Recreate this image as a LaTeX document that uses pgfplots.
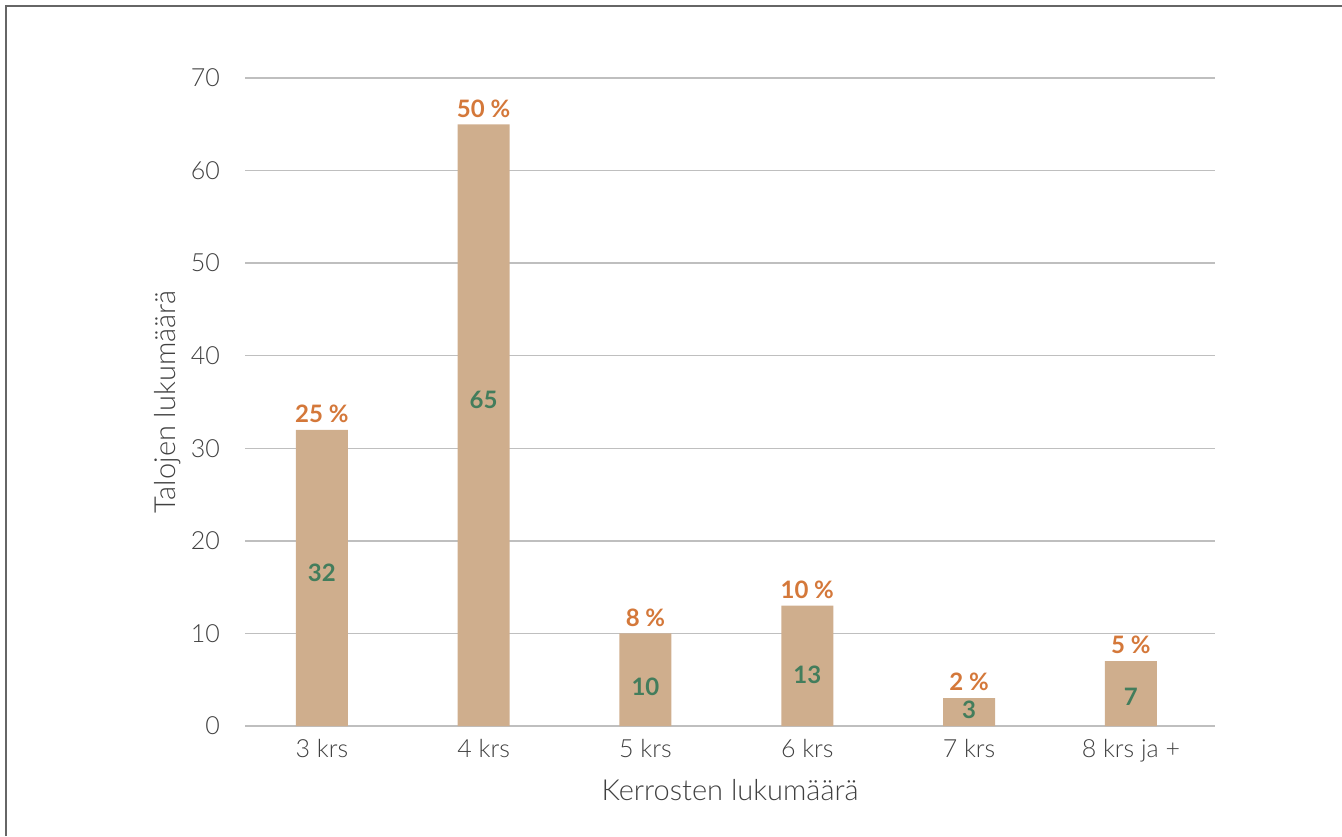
\documentclass[border=0pt]{standalone}
\usepackage{pgfplots}
\usepackage{pgfplotstable}
\pgfplotsset{compat=1.18}
\usepackage{fontspec}
\setmainfont{Lato}[UprightFont=* Light, BoldFont=* Bold]
\definecolor{bartan}{HTML}{CFAE8D}
\definecolor{pctorange}{HTML}{D4783A}
\definecolor{cntgreen}{HTML}{437D5C}
\definecolor{gridgray}{HTML}{BFBFBF}
\definecolor{txtgray}{HTML}{404040}
\pgfplotstableread{
x y pct labpos
0 32 {25 \%} 16.5
1 65 {50 \%} 35.2
2 10 {8 \%} 4.2
3 13 {10 \%} 5.5
4 3 {2 \%} 1.7
5 7 {5 \%} 3.1
}\datatable
\begin{document}
\begin{tikzpicture}[x=0.5pt,y=0.5pt]
\useasboundingbox (0,0) rectangle (1342,836);
\draw[gray!80!black, line width=1pt] (6,0) -- (6,830) -- (1342,830);
\begin{axis}[
  at={(122.5pt,55pt)}, anchor=south west,
  scale only axis, width=485pt, height=324pt,
  xmin=-0.475, xmax=5.52, ymin=0, ymax=70,
  ytick={0,10,...,70},
  xtick={0,...,5},
  xticklabels={3 krs,4 krs,5 krs,6 krs,7 krs,8 krs ja +},
  /pgf/number format/assume math mode=true,
  axis line style={draw=none},
  ymajorgrids, grid style={gridgray, line width=0.7pt},
  major tick length=0pt,
  tick label style={font=\fontsize{12.5}{14}\selectfont, text=txtgray},
  yticklabel style={xshift=-9pt},
  xticklabel style={yshift=-3pt},
  xlabel={Kerrosten lukumäärä}, ylabel={Talojen lukumäärä},
  label style={font=\fontsize{14.5}{16}\selectfont, text=txtgray},
  xlabel style={yshift=-2pt},
  ylabel style={yshift=-2pt},
  clip=false,
]
\addplot[ybar, bar width=26pt, fill=bartan, draw=none,
  nodes near coords, point meta=explicit symbolic,
  every node near coord/.append style={font=\bfseries\fontsize{12}{14}\selectfont, text=pctorange, yshift=0pt}]
  table[x=x, y=y, meta=pct] {\datatable};
\addplot[draw=none, mark=none,
  nodes near coords, point meta=\thisrow{y},
  nodes near coords align={center},
  every node near coord/.append style={font=\bfseries\fontsize{12}{14}\selectfont, text=cntgreen}]
  table[x=x, y=labpos] {\datatable};
\end{axis}
\end{tikzpicture}
\end{document}
